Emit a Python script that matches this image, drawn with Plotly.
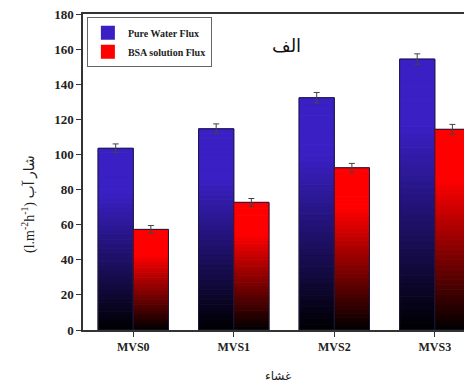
import plotly.graph_objects as go

categories = ["MVS0", "MVS1", "MVS2", "MVS3"]
pure_water = [103.5, 114.6, 132.3, 154.3]
pure_water_err = [2.5, 2.8, 3.0, 3.0]
bsa_flux = [57.3, 72.7, 92.4, 114.3]
bsa_flux_err = [2.2, 2.2, 2.5, 2.8]
y_ticks = [0, 20, 40, 60, 80, 100, 120, 140, 160, 180]

BLUE = (58, 32, 196)
RED = (255, 0, 0)
N = 40
SERIF = "Liberation Serif, Times New Roman, serif"

fig = go.Figure()


def shade(rgb, f):
    k = min(1.0, f / 0.75)
    return "rgb(%d,%d,%d)" % tuple(int(c * k) for c in rgb)


def add_series(name, vals, errs, rgb, group):
    for i in range(N):
        f = (i + 0.5) / N
        col = shade(rgb, f)
        fig.add_trace(go.Bar(
            x=categories,
            y=[v / N for v in vals],
            base=[v * i / N for v in vals],
            offsetgroup=group,
            marker=dict(color=col, line=dict(width=1, color=col)),
            showlegend=(i == N - 1),
            name=name,
            legendrank=1 if group == "a" else 2,
            hoverinfo="skip",
        ))
    fig.add_trace(go.Bar(
        x=categories, y=vals, offsetgroup=group,
        marker=dict(color="rgba(0,0,0,0)", line=dict(color="#1a1a40", width=1)),
        error_y=dict(type="data", array=errs, color="#444", thickness=1, width=3),
        showlegend=False, name=name,
    ))


add_series("Pure Water Flux", pure_water, pure_water_err, BLUE, "a")
add_series("BSA solution Flux", bsa_flux, bsa_flux_err, RED, "b")

fig.update_layout(
    width=464, height=374,
    margin=dict(l=75, r=0, t=6, b=52),
    barmode="group", bargap=0.3, bargroupgap=0,
    paper_bgcolor="white", plot_bgcolor="white",
    font=dict(family=SERIF, color="#222"),
    legend=dict(
        x=0.01, y=0.99, xanchor="left", yanchor="top",
        bgcolor="white", bordercolor="#666", borderwidth=1,
        font=dict(family=SERIF, size=10, color="#222", weight="bold"),
        tracegroupgap=0, itemsizing="constant", itemwidth=30,
    ),
    showlegend=True,
)
fig.update_xaxes(
    type="category", range=[-0.5, 3.37],
    showline=True, linecolor="#333", linewidth=1.5, mirror=True,
    ticks="outside", ticklen=5, tickcolor="#333",
    tickfont=dict(family=SERIF, size=12, color="#222", weight="bold"),
    showgrid=False, zeroline=False,
)
fig.update_yaxes(
    range=[0, 180], tickvals=y_ticks,
    showline=True, linecolor="#333", linewidth=1.5,
    ticks="outside", ticklen=5, tickcolor="#333",
    ticklabeloverflow="allow",
    tickfont=dict(family=SERIF, size=13, color="#222", weight="bold"),
    showgrid=False, zeroline=False,
)
fig.add_annotation(
    text="الف", xref="paper", yref="paper", x=0.524, y=0.937,
    showarrow=False, font=dict(family=SERIF + ", DejaVu Sans", size=18, color="#111"),
)
fig.add_annotation(
    text="(l.m<sup>-2</sup>h<sup>-1</sup>) شار آب", xref="paper", yref="paper",
    x=-0.17, y=0.40, textangle=-90, showarrow=False,
    font=dict(family=SERIF + ", DejaVu Sans", size=14, color="#222"),
)
fig.add_annotation(
    text="غشاء", xref="paper", yref="paper", x=0.5, y=-0.118,
    yanchor="top", showarrow=False,
    font=dict(family=SERIF + ", DejaVu Sans", size=12, color="#222"),
)

fig.write_html("out.html")
